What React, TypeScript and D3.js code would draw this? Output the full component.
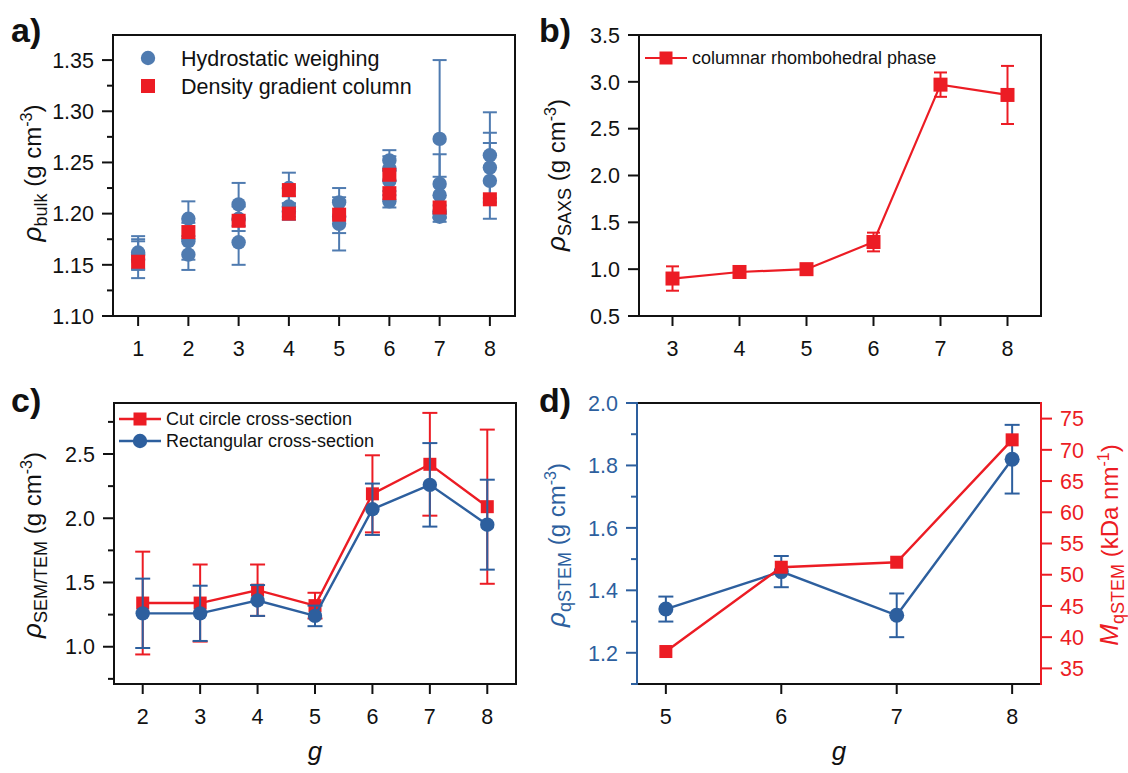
import React from 'react';
import * as d3 from 'd3';

const FONT = "'Liberation Sans', Arial, Helvetica, sans-serif";
const RED = '#ec1c24';
const BLUE_A = '#4f7bb0';
const BLUE = '#2d5f9e';
const BLACK = '#111';

// ---------- Panel a ----------
const aTicksX = [1, 2, 3, 4, 5, 6, 7, 8];
const aTicksY = [1.10, 1.15, 1.20, 1.25, 1.30, 1.35];
const aMinorY = [1.125, 1.175, 1.225, 1.275, 1.325];
const aHydroG = [1, 1, 1, 2, 2, 2, 3, 3, 3, 4, 4, 4, 5, 5, 5, 6, 6, 6, 6, 7, 7, 7, 7, 7, 8, 8, 8];
const aHydroV = [1.162, 1.160, 1.155, 1.195, 1.173, 1.160, 1.209, 1.195, 1.172, 1.225, 1.207, 1.202, 1.211, 1.197, 1.190, 1.252, 1.244, 1.232, 1.212, 1.273, 1.229, 1.218, 1.202, 1.197, 1.257, 1.245, 1.232];
const aHydroErr = [0.016, 0.015, 0.018, 0.017, 0.018, 0.015, 0.021, 0.012, 0.022, 0.015, 0.010, 0.008, 0.014, 0.016, 0.026, 0.010, 0.012, 0.010, 0.006, 0.077, 0.029, 0.018, 0.006, 0.005, 0.042, 0.034, 0.037];
const aDgcG = [1, 2, 3, 4, 4, 5, 6, 6, 7, 8];
const aDgcV = [1.153, 1.182, 1.193, 1.223, 1.200, 1.199, 1.238, 1.220, 1.206, 1.214];

// ---------- Panel b ----------
const bTicksX = [3, 4, 5, 6, 7, 8];
const bTicksY = [0.5, 1.0, 1.5, 2.0, 2.5, 3.0, 3.5];
const bG = [3, 4, 5, 6, 7, 8];
const bV = [0.90, 0.97, 1.00, 1.29, 2.97, 2.86];
const bErr = [0.13, 0.05, 0.03, 0.10, 0.13, 0.31];

// ---------- Panel c ----------
const cTicksX = [2, 3, 4, 5, 6, 7, 8];
const cTicksY = [1.0, 1.5, 2.0, 2.5];
const cMinorY = [0.75, 1.25, 1.75, 2.25, 2.75];
const cG = [2, 3, 4, 5, 6, 7, 8];
const cCut = [1.34, 1.34, 1.44, 1.32, 2.19, 2.42, 2.09];
const cCutErr = [0.40, 0.30, 0.20, 0.10, 0.30, 0.40, 0.60];
const cRect = [1.26, 1.26, 1.36, 1.24, 2.07, 2.26, 1.95];
const cRectErr = [0.27, 0.215, 0.12, 0.08, 0.20, 0.325, 0.35];

// ---------- Panel d ----------
const dTicksX = [5, 6, 7, 8];
const dTicksYL = [1.2, 1.4, 1.6, 1.8, 2.0];
const dMinorYL = [1.1, 1.3, 1.5, 1.7, 1.9];
const dTicksYR = [35, 40, 45, 50, 55, 60, 65, 70, 75];
const dG = [5, 6, 7, 8];
const dRho = [1.34, 1.46, 1.32, 1.82];
const dRhoErr = [0.04, 0.05, 0.07, 0.11];
const dMass = [37.7, 51.2, 52.0, 71.6];

type Lin = d3.ScaleLinear<number, number>;

function Frame({ x, y, top = true, right = true, leftColor = BLACK, rightColor = BLACK }: any) {
  const [x0, x1] = x.range();
  const [y0, y1] = y.range();
  return (
    <g strokeWidth={2} fill="none">
      <line x1={x0} x2={x1} y1={y0} y2={y0} stroke={BLACK} />
      {top && <line x1={x0} x2={x1} y1={y1} y2={y1} stroke={BLACK} />}
      <line x1={x0} x2={x0} y1={y0 + 1} y2={y1 - 1} stroke={leftColor} />
      {right && <line x1={x1} x2={x1} y1={y0 + 1} y2={y1 - 1} stroke={rightColor} />}
    </g>
  );
}

function XAxis({ x, y, ticks }: { x: Lin; y: Lin; ticks: number[] }) {
  const y0 = y.range()[0];
  return (
    <g>
      {ticks.map((t) => (
        <g key={t}>
          <line x1={x(t)} x2={x(t)} y1={y0} y2={y0 + 10} stroke={BLACK} strokeWidth={2} />
          <text x={x(t)} y={y0 + 40} textAnchor="middle" fontSize={21.5} fontFamily={FONT} fill={BLACK}>{t}</text>
        </g>
      ))}
    </g>
  );
}

function YAxis({ x, y, ticks, minor = [], fmt, color = BLACK, side = 'left' }: any) {
  const ax = side === 'left' ? x.range()[0] : x.range()[1];
  const dir = side === 'left' ? -1 : 1;
  return (
    <g>
      {ticks.map((t: number) => (
        <g key={'M' + t}>
          <line x1={ax} x2={ax + dir * 11} y1={y(t)} y2={y(t)} stroke={color} strokeWidth={2} />
          <text x={ax + dir * 19} y={y(t)} dy="0.36em" textAnchor={side === 'left' ? 'end' : 'start'} fontSize={21.5} fontFamily={FONT} fill={color}>{fmt(t)}</text>
        </g>
      ))}
      {minor.map((t: number) => (
        <line key={'m' + t} x1={ax} x2={ax + dir * 6} y1={y(t)} y2={y(t)} stroke={color} strokeWidth={2} />
      ))}
    </g>
  );
}

function ErrBar({ cx, yv, e, y, color, cap = 14, w = 2 }: any) {
  const top = y(yv + e);
  const bot = y(yv - e);
  return (
    <g stroke={color} strokeWidth={w}>
      <line x1={cx} x2={cx} y1={top} y2={bot} />
      <line x1={cx - cap / 2} x2={cx + cap / 2} y1={top} y2={top} />
      <line x1={cx - cap / 2} x2={cx + cap / 2} y1={bot} y2={bot} />
    </g>
  );
}

function Sq({ cx, cy, s = 13, color = RED }: any) {
  return <rect x={cx - s / 2} y={cy - s / 2} width={s} height={s} fill={color} />;
}

function YTitle({ x, y, main, sub, color = BLACK, unitSup = '-3', unitPre = ' (g cm', rot = -90 }: any) {
  return (
    <text transform={`translate(${x},${y}) rotate(${rot})`} textAnchor="middle" dy="0.35em" fontSize={24} fontFamily={FONT} fill={color}>
      <tspan fontStyle="italic" fontSize={26}>{main}</tspan>
      <tspan fontSize={18} dy={6}>{sub}</tspan>
      <tspan dy={-6}>{unitPre}</tspan>
      <tspan fontSize={16} dy={-9}>{unitSup}</tspan>
      <tspan dy={9}>)</tspan>
    </text>
  );
}

function PanelLabel({ x, y, t }: any) {
  return <text x={x} y={y} fontSize={34} fontWeight="bold" fontFamily={FONT} fill={BLACK}>{t}</text>;
}

export default function App() {
  const ax = d3.scaleLinear().domain([0.5, 8.5]).range([113, 515]);
  const ay = d3.scaleLinear().domain([1.10, 1.3745]).range([316, 35]);
  const bx = d3.scaleLinear().domain([2.5, 8.5]).range([639, 1041]);
  const by = d3.scaleLinear().domain([0.5, 3.5]).range([316, 35]);
  const cx = d3.scaleLinear().domain([1.5, 8.5]).range([114, 516]);
  const cy = d3.scaleLinear().domain([0.71, 2.897]).range([684, 403]);
  const dx = d3.scaleLinear().domain([4.75, 8.25]).range([637, 1041]);
  const dyL = d3.scaleLinear().domain([1.1, 2.0]).range([684, 403]);
  const dyR = d3.scaleLinear().domain([32.5, 77.5]).range([684, 403]);

  const bLine = d3.line<number>().x((_, i) => bx(bG[i])).y((v) => by(v));
  const cLineCut = d3.line<number>().x((_, i) => cx(cG[i])).y((v) => cy(v));
  const cLineRect = d3.line<number>().x((_, i) => cx(cG[i])).y((v) => cy(v));
  const dLineRho = d3.line<number>().x((_, i) => dx(dG[i])).y((v) => dyL(v));
  const dLineMass = d3.line<number>().x((_, i) => dx(dG[i])).y((v) => dyR(v));

  const f2 = (v: number) => v.toFixed(2);
  const f1 = (v: number) => v.toFixed(1);
  const f0 = (v: number) => String(v);

  return (
    <svg width={1128} height={773} style={{ position: 'absolute', left: 0, top: 0, background: '#fff' }}>
      <rect width={1128} height={773} fill="#fff" />

      {/* Panel a */}
      <PanelLabel x={11} y={42} t="a)" />
      <Frame x={ax} y={ay} />
      <XAxis x={ax} y={ay} ticks={aTicksX} />
      <YAxis x={ax} y={ay} ticks={aTicksY} minor={aMinorY} fmt={f2} />
      <YTitle x={33} y={173} main="ρ" sub="bulk" />
      {aHydroV.map((v, i) => (
        <ErrBar key={'ae' + i} cx={ax(aHydroG[i])} yv={v} e={aHydroErr[i]} y={ay} color={BLUE_A} cap={14} />
      ))}
      {aHydroV.map((v, i) => (
        <circle key={'ac' + i} cx={ax(aHydroG[i])} cy={ay(v)} r={7.2} fill={BLUE_A} />
      ))}
      {aDgcV.map((v, i) => (
        <Sq key={'as' + i} cx={ax(aDgcG[i])} cy={ay(v)} s={14} />
      ))}
      <circle cx={148} cy={58} r={7.2} fill={BLUE_A} />
      <Sq cx={148} cy={86} s={14} />
      <text x={181} y={58} dy="0.36em" fontSize={21.5} fontFamily={FONT} fill={BLACK}>Hydrostatic weighing</text>
      <text x={181} y={86} dy="0.36em" fontSize={21.5} fontFamily={FONT} fill={BLACK}>Density gradient column</text>

      {/* Panel b */}
      <PanelLabel x={539} y={42} t="b)" />
      <Frame x={bx} y={by} />
      <XAxis x={bx} y={by} ticks={bTicksX} />
      <YAxis x={bx} y={by} ticks={bTicksY} fmt={f1} />
      <YTitle x={557} y={175} main="ρ" sub="SAXS" />
      <path d={bLine(bV) || ''} fill="none" stroke={RED} strokeWidth={2.2} />
      {bV.map((v, i) => (
        <ErrBar key={'be' + i} cx={bx(bG[i])} yv={v} e={bErr[i]} y={by} color={RED} cap={13} />
      ))}
      {bV.map((v, i) => (
        <Sq key={'bs' + i} cx={bx(bG[i])} cy={by(v)} s={14} />
      ))}
      <line x1={645} x2={687} y1={58} y2={58} stroke={RED} strokeWidth={2.2} />
      <Sq cx={666} cy={58} s={13} />
      <text x={692} y={58} dy="0.36em" fontSize={18} fontFamily={FONT} fill={BLACK}>columnar rhombohedral phase</text>

      {/* Panel c */}
      <PanelLabel x={11} y={412} t="c)" />
      <Frame x={cx} y={cy} />
      <XAxis x={cx} y={cy} ticks={cTicksX} />
      <YAxis x={cx} y={cy} ticks={cTicksY} minor={cMinorY} fmt={f1} />
      <YTitle x={33} y={545} main="ρ" sub="SEM/TEM" />
      <text x={315} y={760} textAnchor="middle" fontSize={26} fontStyle="italic" fontFamily={FONT} fill={BLACK}>g</text>
      <path d={cLineCut(cCut) || ''} fill="none" stroke={RED} strokeWidth={2.4} />
      {cCut.map((v, i) => (
        <ErrBar key={'ce' + i} cx={cx(cG[i])} yv={v} e={cCutErr[i]} y={cy} color={RED} cap={15} />
      ))}
      {cCut.map((v, i) => (
        <Sq key={'cs' + i} cx={cx(cG[i])} cy={cy(v)} s={13} />
      ))}
      <path d={cLineRect(cRect) || ''} fill="none" stroke={BLUE} strokeWidth={2.4} />
      {cRect.map((v, i) => (
        <ErrBar key={'cre' + i} cx={cx(cG[i])} yv={v} e={cRectErr[i]} y={cy} color={BLUE} cap={15} />
      ))}
      {cRect.map((v, i) => (
        <circle key={'crc' + i} cx={cx(cG[i])} cy={cy(v)} r={7.2} fill={BLUE} />
      ))}
      <line x1={119} x2={161} y1={419} y2={419} stroke={RED} strokeWidth={2.4} />
      <Sq cx={140} cy={419} s={13} />
      <line x1={119} x2={161} y1={441} y2={441} stroke={BLUE} strokeWidth={2.4} />
      <circle cx={140} cy={441} r={7.2} fill={BLUE} />
      <text x={166} y={419} dy="0.36em" fontSize={18} fontFamily={FONT} fill={BLACK}>Cut circle cross-section</text>
      <text x={166} y={441} dy="0.36em" fontSize={18} fontFamily={FONT} fill={BLACK}>Rectangular cross-section</text>

      {/* Panel d */}
      <PanelLabel x={539} y={412} t="d)" />
      <Frame x={dx} y={dyL} leftColor={BLUE} rightColor={RED} />
      <XAxis x={dx} y={dyL} ticks={dTicksX} />
      <YAxis x={dx} y={dyL} ticks={dTicksYL} minor={dMinorYL} fmt={f1} color={BLUE} />
      <YAxis x={dx} y={dyR} ticks={dTicksYR} fmt={f0} color={RED} side="right" />
      <YTitle x={557} y={545} main="ρ" sub="qSTEM" color={BLUE} />
      <YTitle x={1110} y={545} main="M" sub="qSTEM" color={RED} unitPre=" (kDa nm" unitSup="-1" />
      <text x={839} y={760} textAnchor="middle" fontSize={26} fontStyle="italic" fontFamily={FONT} fill={BLACK}>g</text>
      <path d={dLineRho(dRho) || ''} fill="none" stroke={BLUE} strokeWidth={2.4} />
      {dRho.map((v, i) => (
        <ErrBar key={'de' + i} cx={dx(dG[i])} yv={v} e={dRhoErr[i]} y={dyL} color={BLUE} cap={15} />
      ))}
      {dRho.map((v, i) => (
        <circle key={'dc' + i} cx={dx(dG[i])} cy={dyL(v)} r={7.5} fill={BLUE} />
      ))}
      <path d={dLineMass(dMass) || ''} fill="none" stroke={RED} strokeWidth={2.4} />
      {dMass.map((v, i) => (
        <Sq key={'ds' + i} cx={dx(dG[i])} cy={dyR(v)} s={13} />
      ))}
    </svg>
  );
}
